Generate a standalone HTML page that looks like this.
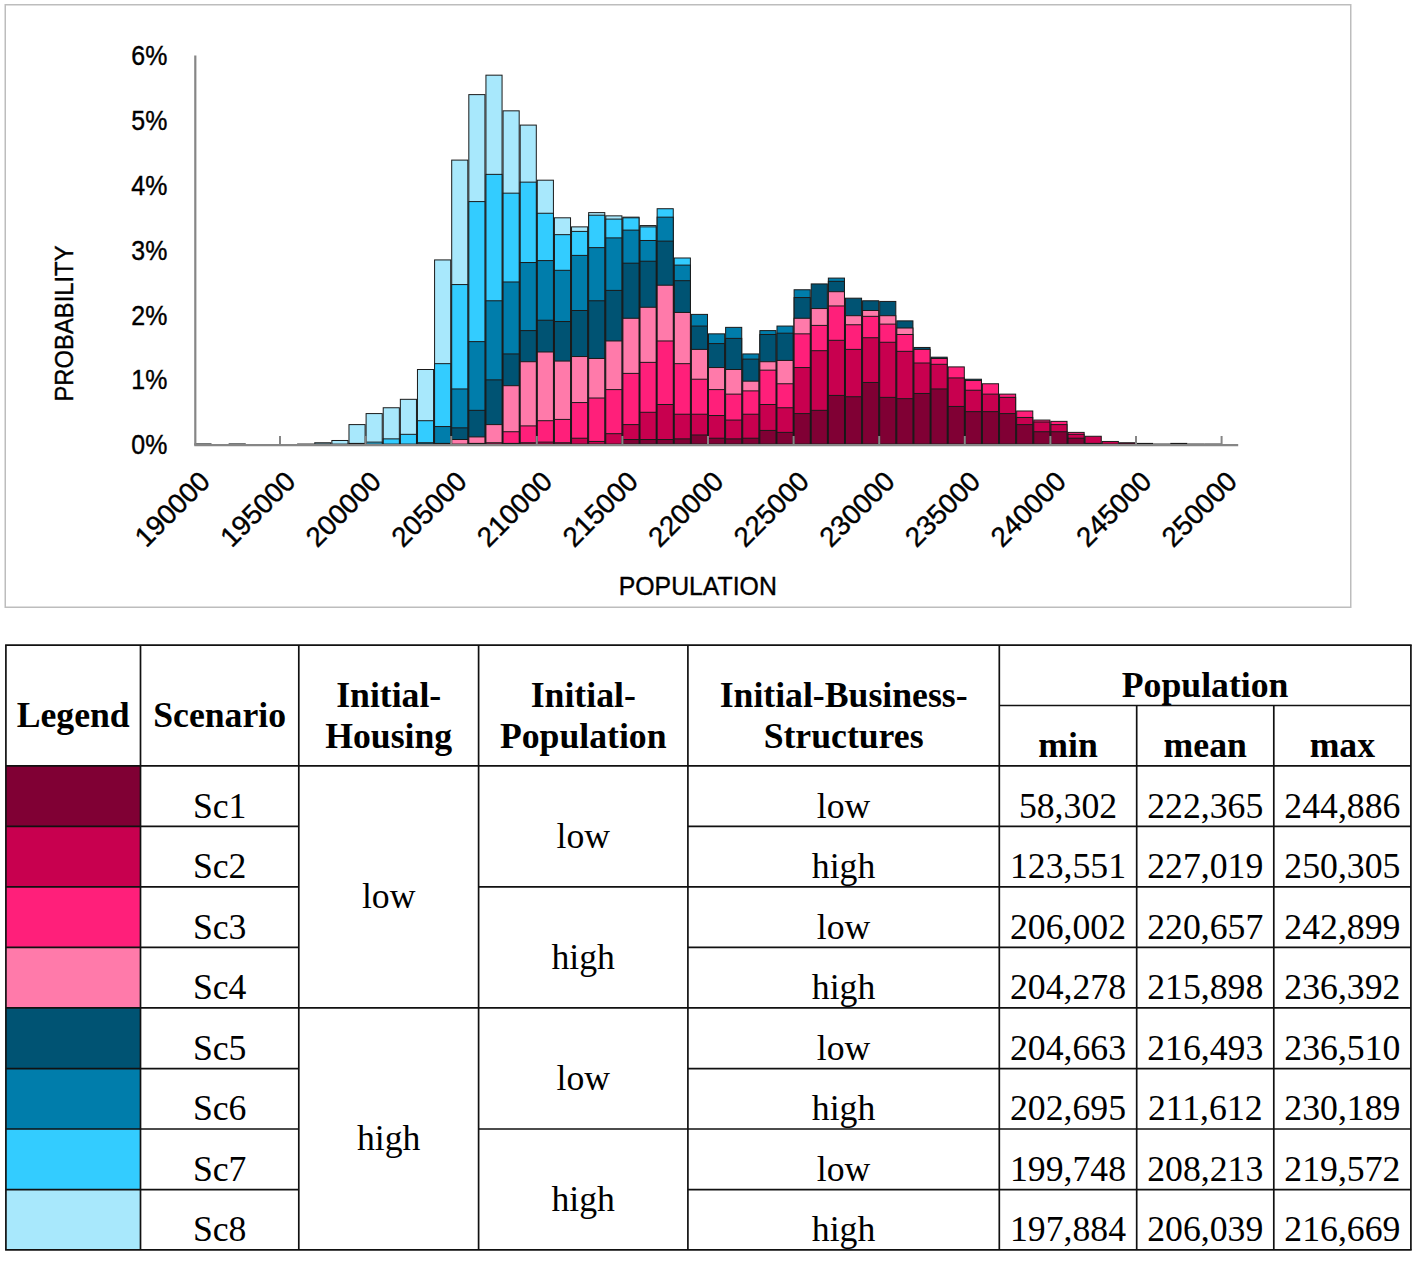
<!DOCTYPE html><html><head><meta charset="utf-8"><style>
html,body{margin:0;padding:0;background:#fff;}body{width:1417px;height:1261px;overflow:hidden;position:relative;}
svg{position:absolute;left:0;top:0;}
.s{font-family:"Liberation Sans",sans-serif;fill:#000;stroke:#000;stroke-width:0.4px;}
.t{font-family:"Liberation Serif",serif;fill:#000;font-size:35.7px;}
.b{font-weight:bold;}
</style></head><body>
<svg width="1417" height="1261" viewBox="0 0 1417 1261">
<rect x="5.25" y="4.75" width="1345.5" height="602.5" fill="none" stroke="#bdbdbd" stroke-width="1.5"/>
<g stroke="#1a1a1a" stroke-width="1">
<rect x="194.9" y="443.92" width="16.12" height="0.3" fill="#a8e8fc"/>
<rect x="229.14" y="443.92" width="16.12" height="0.3" fill="#a8e8fc"/>
<rect x="297.62" y="444.05" width="16.12" height="0.3" fill="#a8e8fc"/>
<rect x="314.74" y="442.76" width="16.12" height="1.34" fill="#a8e8fc"/>
<rect x="331.86" y="440.49" width="16.12" height="3.61" fill="#a8e8fc"/>
<rect x="348.98" y="424.6" width="16.12" height="19.5" fill="#a8e8fc"/>
<rect x="348.98" y="443.4" width="16.12" height="0.7" fill="#33ccff"/>
<rect x="366.1" y="413.58" width="16.12" height="30.52" fill="#a8e8fc"/>
<rect x="366.1" y="442.11" width="16.12" height="1.99" fill="#33ccff"/>
<rect x="383.22" y="407.75" width="16.12" height="36.35" fill="#a8e8fc"/>
<rect x="383.22" y="438.87" width="16.12" height="5.23" fill="#33ccff"/>
<rect x="400.34" y="399.32" width="16.12" height="44.78" fill="#a8e8fc"/>
<rect x="400.34" y="434.33" width="16.12" height="9.77" fill="#33ccff"/>
<rect x="417.46" y="369.5" width="16.12" height="74.6" fill="#a8e8fc"/>
<rect x="417.46" y="420.71" width="16.12" height="23.39" fill="#33ccff"/>
<rect x="417.46" y="442.76" width="16.12" height="1.34" fill="#007dab"/>
<rect x="434.58" y="259.93" width="16.12" height="184.17" fill="#a8e8fc"/>
<rect x="434.58" y="363.66" width="16.12" height="80.44" fill="#33ccff"/>
<rect x="434.58" y="426.55" width="16.12" height="17.55" fill="#007dab"/>
<rect x="434.58" y="443.4" width="16.12" height="0.7" fill="#005373"/>
<rect x="451.7" y="160.1" width="16.12" height="284" fill="#a8e8fc"/>
<rect x="451.7" y="284.57" width="16.12" height="159.53" fill="#33ccff"/>
<rect x="451.7" y="388.95" width="16.12" height="55.15" fill="#007dab"/>
<rect x="451.7" y="427.84" width="16.12" height="16.26" fill="#005373"/>
<rect x="451.7" y="439.51" width="16.12" height="4.59" fill="#ff7aaa"/>
<rect x="468.82" y="94.62" width="16.12" height="349.48" fill="#a8e8fc"/>
<rect x="468.82" y="201.59" width="16.12" height="242.51" fill="#33ccff"/>
<rect x="468.82" y="341.62" width="16.12" height="102.48" fill="#007dab"/>
<rect x="468.82" y="410.34" width="16.12" height="33.76" fill="#005373"/>
<rect x="468.82" y="436.92" width="16.12" height="7.18" fill="#ff7aaa"/>
<rect x="468.82" y="443.4" width="16.12" height="0.7" fill="#ff1f7a"/>
<rect x="485.94" y="75.17" width="16.12" height="368.93" fill="#a8e8fc"/>
<rect x="485.94" y="174.36" width="16.12" height="269.74" fill="#33ccff"/>
<rect x="485.94" y="300.78" width="16.12" height="143.32" fill="#007dab"/>
<rect x="485.94" y="379.87" width="16.12" height="64.23" fill="#005373"/>
<rect x="485.94" y="424.6" width="16.12" height="19.5" fill="#ff7aaa"/>
<rect x="485.94" y="442.76" width="16.12" height="1.34" fill="#ff1f7a"/>
<rect x="503.06" y="110.83" width="16.12" height="333.27" fill="#a8e8fc"/>
<rect x="503.06" y="193.16" width="16.12" height="250.94" fill="#33ccff"/>
<rect x="503.06" y="281.98" width="16.12" height="162.12" fill="#007dab"/>
<rect x="503.06" y="353.94" width="16.12" height="90.16" fill="#005373"/>
<rect x="503.06" y="385.7" width="16.12" height="58.4" fill="#ff7aaa"/>
<rect x="503.06" y="431.73" width="16.12" height="12.37" fill="#ff1f7a"/>
<rect x="503.06" y="443.4" width="16.12" height="0.7" fill="#c8004f"/>
<rect x="520.18" y="125.09" width="16.12" height="319.01" fill="#a8e8fc"/>
<rect x="520.18" y="182.14" width="16.12" height="261.96" fill="#33ccff"/>
<rect x="520.18" y="262.53" width="16.12" height="181.57" fill="#007dab"/>
<rect x="520.18" y="330.6" width="16.12" height="113.5" fill="#005373"/>
<rect x="520.18" y="361.72" width="16.12" height="82.38" fill="#ff7aaa"/>
<rect x="520.18" y="425.9" width="16.12" height="18.2" fill="#ff1f7a"/>
<rect x="520.18" y="442.76" width="16.12" height="1.34" fill="#c8004f"/>
<rect x="537.3" y="180.19" width="16.12" height="263.91" fill="#a8e8fc"/>
<rect x="537.3" y="213.26" width="16.12" height="230.84" fill="#33ccff"/>
<rect x="537.3" y="260.58" width="16.12" height="183.52" fill="#007dab"/>
<rect x="537.3" y="320.23" width="16.12" height="123.87" fill="#005373"/>
<rect x="537.3" y="351.99" width="16.12" height="92.11" fill="#ff7aaa"/>
<rect x="537.3" y="420.71" width="16.12" height="23.39" fill="#ff1f7a"/>
<rect x="537.3" y="442.11" width="16.12" height="1.99" fill="#c8004f"/>
<rect x="554.42" y="217.8" width="16.12" height="226.31" fill="#a8e8fc"/>
<rect x="554.42" y="234.65" width="16.12" height="209.45" fill="#33ccff"/>
<rect x="554.42" y="270.31" width="16.12" height="173.79" fill="#007dab"/>
<rect x="554.42" y="321.52" width="16.12" height="122.58" fill="#005373"/>
<rect x="554.42" y="361.07" width="16.12" height="83.03" fill="#ff7aaa"/>
<rect x="554.42" y="419.42" width="16.12" height="24.68" fill="#ff1f7a"/>
<rect x="554.42" y="442.76" width="16.12" height="1.34" fill="#c8004f"/>
<rect x="571.54" y="226.87" width="16.12" height="217.23" fill="#a8e8fc"/>
<rect x="571.54" y="231.41" width="16.12" height="212.69" fill="#33ccff"/>
<rect x="571.54" y="255.4" width="16.12" height="188.7" fill="#007dab"/>
<rect x="571.54" y="310.5" width="16.12" height="133.6" fill="#005373"/>
<rect x="571.54" y="356.53" width="16.12" height="87.57" fill="#ff7aaa"/>
<rect x="571.54" y="402.56" width="16.12" height="41.54" fill="#ff1f7a"/>
<rect x="571.54" y="438.22" width="16.12" height="5.88" fill="#c8004f"/>
<rect x="588.66" y="212.61" width="16.12" height="231.49" fill="#a8e8fc"/>
<rect x="588.66" y="215.2" width="16.12" height="228.9" fill="#33ccff"/>
<rect x="588.66" y="247.62" width="16.12" height="196.48" fill="#007dab"/>
<rect x="588.66" y="300.78" width="16.12" height="143.32" fill="#005373"/>
<rect x="588.66" y="358.48" width="16.12" height="85.62" fill="#ff7aaa"/>
<rect x="588.66" y="398.02" width="16.12" height="46.08" fill="#ff1f7a"/>
<rect x="588.66" y="441.46" width="16.12" height="2.64" fill="#c8004f"/>
<rect x="605.78" y="215.85" width="16.12" height="228.25" fill="#a8e8fc"/>
<rect x="605.78" y="219.09" width="16.12" height="225.01" fill="#33ccff"/>
<rect x="605.78" y="237.89" width="16.12" height="206.21" fill="#007dab"/>
<rect x="605.78" y="290.4" width="16.12" height="153.7" fill="#005373"/>
<rect x="605.78" y="340.97" width="16.12" height="103.13" fill="#ff7aaa"/>
<rect x="605.78" y="389.59" width="16.12" height="54.51" fill="#ff1f7a"/>
<rect x="605.78" y="433.68" width="16.12" height="10.42" fill="#c8004f"/>
<rect x="622.9" y="217.15" width="16.12" height="226.95" fill="#a8e8fc"/>
<rect x="622.9" y="217.8" width="16.12" height="226.31" fill="#33ccff"/>
<rect x="622.9" y="230.11" width="16.12" height="213.99" fill="#007dab"/>
<rect x="622.9" y="263.18" width="16.12" height="180.92" fill="#005373"/>
<rect x="622.9" y="318.28" width="16.12" height="125.82" fill="#ff7aaa"/>
<rect x="622.9" y="373.39" width="16.12" height="70.71" fill="#ff1f7a"/>
<rect x="622.9" y="424.6" width="16.12" height="19.5" fill="#c8004f"/>
<rect x="622.9" y="439.51" width="16.12" height="4.59" fill="#800034"/>
<rect x="640.02" y="225.57" width="16.12" height="218.53" fill="#a8e8fc"/>
<rect x="640.02" y="226.87" width="16.12" height="217.23" fill="#33ccff"/>
<rect x="640.02" y="240.49" width="16.12" height="203.61" fill="#007dab"/>
<rect x="640.02" y="261.23" width="16.12" height="182.87" fill="#005373"/>
<rect x="640.02" y="307.26" width="16.12" height="136.84" fill="#ff7aaa"/>
<rect x="640.02" y="362.37" width="16.12" height="81.73" fill="#ff1f7a"/>
<rect x="640.02" y="412.29" width="16.12" height="31.81" fill="#c8004f"/>
<rect x="640.02" y="439.51" width="16.12" height="4.59" fill="#800034"/>
<rect x="657.14" y="208.72" width="16.12" height="235.38" fill="#33ccff"/>
<rect x="657.14" y="217.15" width="16.12" height="226.95" fill="#007dab"/>
<rect x="657.14" y="241.13" width="16.12" height="202.97" fill="#005373"/>
<rect x="657.14" y="285.22" width="16.12" height="158.88" fill="#ff7aaa"/>
<rect x="657.14" y="340.97" width="16.12" height="103.13" fill="#ff1f7a"/>
<rect x="657.14" y="404.51" width="16.12" height="39.59" fill="#c8004f"/>
<rect x="657.14" y="439.51" width="16.12" height="4.59" fill="#800034"/>
<rect x="674.26" y="257.99" width="16.12" height="186.11" fill="#33ccff"/>
<rect x="674.26" y="265.12" width="16.12" height="178.98" fill="#007dab"/>
<rect x="674.26" y="280.68" width="16.12" height="163.42" fill="#005373"/>
<rect x="674.26" y="312.45" width="16.12" height="131.65" fill="#ff7aaa"/>
<rect x="674.26" y="363.66" width="16.12" height="80.44" fill="#ff1f7a"/>
<rect x="674.26" y="414.23" width="16.12" height="29.87" fill="#c8004f"/>
<rect x="674.26" y="438.87" width="16.12" height="5.23" fill="#800034"/>
<rect x="691.38" y="314.39" width="16.12" height="129.71" fill="#007dab"/>
<rect x="691.38" y="326.06" width="16.12" height="118.04" fill="#005373"/>
<rect x="691.38" y="349.4" width="16.12" height="94.7" fill="#ff7aaa"/>
<rect x="691.38" y="379.22" width="16.12" height="64.88" fill="#ff1f7a"/>
<rect x="691.38" y="414.23" width="16.12" height="29.87" fill="#c8004f"/>
<rect x="691.38" y="434.98" width="16.12" height="9.12" fill="#800034"/>
<rect x="708.5" y="333.84" width="16.12" height="110.26" fill="#007dab"/>
<rect x="708.5" y="343.57" width="16.12" height="100.53" fill="#005373"/>
<rect x="708.5" y="367.55" width="16.12" height="76.55" fill="#ff7aaa"/>
<rect x="708.5" y="389.59" width="16.12" height="54.51" fill="#ff1f7a"/>
<rect x="708.5" y="415.53" width="16.12" height="28.57" fill="#c8004f"/>
<rect x="708.5" y="438.22" width="16.12" height="5.88" fill="#800034"/>
<rect x="725.62" y="327.36" width="16.12" height="116.74" fill="#007dab"/>
<rect x="725.62" y="338.38" width="16.12" height="105.72" fill="#005373"/>
<rect x="725.62" y="369.5" width="16.12" height="74.6" fill="#ff7aaa"/>
<rect x="725.62" y="394.13" width="16.12" height="49.97" fill="#ff1f7a"/>
<rect x="725.62" y="420.06" width="16.12" height="24.04" fill="#c8004f"/>
<rect x="725.62" y="438.87" width="16.12" height="5.23" fill="#800034"/>
<rect x="742.74" y="353.94" width="16.12" height="90.16" fill="#007dab"/>
<rect x="742.74" y="359.12" width="16.12" height="84.98" fill="#005373"/>
<rect x="742.74" y="381.17" width="16.12" height="62.93" fill="#ff7aaa"/>
<rect x="742.74" y="390.89" width="16.12" height="53.21" fill="#ff1f7a"/>
<rect x="742.74" y="414.23" width="16.12" height="29.87" fill="#c8004f"/>
<rect x="742.74" y="438.22" width="16.12" height="5.88" fill="#800034"/>
<rect x="759.86" y="330.6" width="16.12" height="113.5" fill="#007dab"/>
<rect x="759.86" y="334.49" width="16.12" height="109.61" fill="#005373"/>
<rect x="759.86" y="361.72" width="16.12" height="82.38" fill="#ff7aaa"/>
<rect x="759.86" y="370.15" width="16.12" height="73.95" fill="#ff1f7a"/>
<rect x="759.86" y="404.51" width="16.12" height="39.59" fill="#c8004f"/>
<rect x="759.86" y="430.44" width="16.12" height="13.66" fill="#800034"/>
<rect x="776.98" y="326.06" width="16.12" height="118.04" fill="#007dab"/>
<rect x="776.98" y="333.19" width="16.12" height="110.91" fill="#005373"/>
<rect x="776.98" y="360.42" width="16.12" height="83.68" fill="#ff7aaa"/>
<rect x="776.98" y="383.76" width="16.12" height="60.34" fill="#ff1f7a"/>
<rect x="776.98" y="407.75" width="16.12" height="36.35" fill="#c8004f"/>
<rect x="776.98" y="432.38" width="16.12" height="11.72" fill="#800034"/>
<rect x="794.1" y="289.76" width="16.12" height="154.34" fill="#007dab"/>
<rect x="794.1" y="297.54" width="16.12" height="146.56" fill="#005373"/>
<rect x="794.1" y="318.28" width="16.12" height="125.82" fill="#ff7aaa"/>
<rect x="794.1" y="333.84" width="16.12" height="110.26" fill="#ff1f7a"/>
<rect x="794.1" y="367.55" width="16.12" height="76.55" fill="#c8004f"/>
<rect x="794.1" y="413.58" width="16.12" height="30.52" fill="#800034"/>
<rect x="811.22" y="283.92" width="16.12" height="160.18" fill="#005373"/>
<rect x="811.22" y="308.56" width="16.12" height="135.54" fill="#ff7aaa"/>
<rect x="811.22" y="325.41" width="16.12" height="118.69" fill="#ff1f7a"/>
<rect x="811.22" y="350.7" width="16.12" height="93.4" fill="#c8004f"/>
<rect x="811.22" y="410.34" width="16.12" height="33.76" fill="#800034"/>
<rect x="828.34" y="278.09" width="16.12" height="166.01" fill="#007dab"/>
<rect x="828.34" y="281.33" width="16.12" height="162.77" fill="#005373"/>
<rect x="828.34" y="291.7" width="16.12" height="152.4" fill="#ff7aaa"/>
<rect x="828.34" y="305.96" width="16.12" height="138.14" fill="#ff1f7a"/>
<rect x="828.34" y="340.32" width="16.12" height="103.78" fill="#c8004f"/>
<rect x="828.34" y="395.43" width="16.12" height="48.67" fill="#800034"/>
<rect x="845.46" y="298.18" width="16.12" height="145.92" fill="#005373"/>
<rect x="845.46" y="315.69" width="16.12" height="128.41" fill="#ff7aaa"/>
<rect x="845.46" y="324.76" width="16.12" height="119.34" fill="#ff1f7a"/>
<rect x="845.46" y="349.4" width="16.12" height="94.7" fill="#c8004f"/>
<rect x="845.46" y="396.73" width="16.12" height="47.37" fill="#800034"/>
<rect x="862.58" y="300.78" width="16.12" height="143.32" fill="#005373"/>
<rect x="862.58" y="310.5" width="16.12" height="133.6" fill="#ff7aaa"/>
<rect x="862.58" y="316.34" width="16.12" height="127.76" fill="#ff1f7a"/>
<rect x="862.58" y="337.73" width="16.12" height="106.37" fill="#c8004f"/>
<rect x="862.58" y="382.46" width="16.12" height="61.64" fill="#800034"/>
<rect x="879.7" y="301.43" width="16.12" height="142.67" fill="#005373"/>
<rect x="879.7" y="315.69" width="16.12" height="128.41" fill="#ff7aaa"/>
<rect x="879.7" y="324.12" width="16.12" height="119.98" fill="#ff1f7a"/>
<rect x="879.7" y="342.27" width="16.12" height="101.83" fill="#c8004f"/>
<rect x="879.7" y="397.37" width="16.12" height="46.73" fill="#800034"/>
<rect x="896.82" y="320.87" width="16.12" height="123.23" fill="#005373"/>
<rect x="896.82" y="328.01" width="16.12" height="116.09" fill="#ff7aaa"/>
<rect x="896.82" y="334.49" width="16.12" height="109.61" fill="#ff1f7a"/>
<rect x="896.82" y="351.34" width="16.12" height="92.76" fill="#c8004f"/>
<rect x="896.82" y="398.67" width="16.12" height="45.43" fill="#800034"/>
<rect x="913.94" y="347.46" width="16.12" height="96.65" fill="#005373"/>
<rect x="913.94" y="349.4" width="16.12" height="94.7" fill="#ff1f7a"/>
<rect x="913.94" y="363.01" width="16.12" height="81.09" fill="#c8004f"/>
<rect x="913.94" y="393.48" width="16.12" height="50.62" fill="#800034"/>
<rect x="931.06" y="357.18" width="16.12" height="86.92" fill="#005373"/>
<rect x="931.06" y="358.48" width="16.12" height="85.62" fill="#ff1f7a"/>
<rect x="931.06" y="364.31" width="16.12" height="79.79" fill="#c8004f"/>
<rect x="931.06" y="388.95" width="16.12" height="55.15" fill="#800034"/>
<rect x="948.18" y="366.9" width="16.12" height="77.2" fill="#ff1f7a"/>
<rect x="948.18" y="377.93" width="16.12" height="66.17" fill="#c8004f"/>
<rect x="948.18" y="406.45" width="16.12" height="37.65" fill="#800034"/>
<rect x="965.3" y="379.22" width="16.12" height="64.88" fill="#005373"/>
<rect x="965.3" y="380.52" width="16.12" height="63.58" fill="#ff1f7a"/>
<rect x="965.3" y="390.24" width="16.12" height="53.86" fill="#c8004f"/>
<rect x="965.3" y="411.64" width="16.12" height="32.46" fill="#800034"/>
<rect x="982.42" y="383.76" width="16.12" height="60.34" fill="#ff1f7a"/>
<rect x="982.42" y="394.13" width="16.12" height="49.97" fill="#c8004f"/>
<rect x="982.42" y="411.64" width="16.12" height="32.46" fill="#800034"/>
<rect x="999.54" y="394.13" width="16.12" height="49.97" fill="#ff1f7a"/>
<rect x="999.54" y="397.37" width="16.12" height="46.73" fill="#c8004f"/>
<rect x="999.54" y="413.58" width="16.12" height="30.52" fill="#800034"/>
<rect x="1016.66" y="410.99" width="16.12" height="33.11" fill="#ff1f7a"/>
<rect x="1016.66" y="417.47" width="16.12" height="26.63" fill="#c8004f"/>
<rect x="1016.66" y="424.6" width="16.12" height="19.5" fill="#800034"/>
<rect x="1033.78" y="420.06" width="16.12" height="24.04" fill="#ff1f7a"/>
<rect x="1033.78" y="422.01" width="16.12" height="22.09" fill="#c8004f"/>
<rect x="1033.78" y="431.73" width="16.12" height="12.37" fill="#800034"/>
<rect x="1050.9" y="421.36" width="16.12" height="22.74" fill="#ff1f7a"/>
<rect x="1050.9" y="424.6" width="16.12" height="19.5" fill="#c8004f"/>
<rect x="1050.9" y="431.73" width="16.12" height="12.37" fill="#800034"/>
<rect x="1068.02" y="432.38" width="16.12" height="11.72" fill="#ff1f7a"/>
<rect x="1068.02" y="434.33" width="16.12" height="9.77" fill="#c8004f"/>
<rect x="1068.02" y="438.22" width="16.12" height="5.88" fill="#800034"/>
<rect x="1085.14" y="436.27" width="16.12" height="7.83" fill="#c8004f"/>
<rect x="1085.14" y="443.4" width="16.12" height="0.7" fill="#800034"/>
<rect x="1102.26" y="441.46" width="16.12" height="2.64" fill="#c8004f"/>
<rect x="1119.38" y="442.76" width="16.12" height="1.34" fill="#800034"/>
<rect x="1136.5" y="443.4" width="16.12" height="0.7" fill="#800034"/>
<rect x="1153.62" y="444.05" width="16.12" height="0.3" fill="#800034"/>
<rect x="1170.74" y="443.4" width="16.12" height="0.7" fill="#800034"/>
<rect x="1187.86" y="444.05" width="16.12" height="0.3" fill="#800034"/>
<rect x="1204.98" y="444.05" width="16.12" height="0.3" fill="#800034"/>
</g>
<line x1="195.3" y1="55.6" x2="195.3" y2="445.6" stroke="#868686" stroke-width="2.2"/>
<line x1="194.3" y1="445.2" x2="1238.2" y2="445.2" stroke="#868686" stroke-width="2.2"/>
<line x1="280" y1="436" x2="280" y2="444" stroke="#868686" stroke-width="2"/>
<line x1="365.6" y1="436" x2="365.6" y2="444" stroke="#868686" stroke-width="2"/>
<line x1="451.2" y1="436" x2="451.2" y2="444" stroke="#868686" stroke-width="2"/>
<line x1="536.8" y1="436" x2="536.8" y2="444" stroke="#868686" stroke-width="2"/>
<line x1="622.4" y1="436" x2="622.4" y2="444" stroke="#868686" stroke-width="2"/>
<line x1="708" y1="436" x2="708" y2="444" stroke="#868686" stroke-width="2"/>
<line x1="793.6" y1="436" x2="793.6" y2="444" stroke="#868686" stroke-width="2"/>
<line x1="879.2" y1="436" x2="879.2" y2="444" stroke="#868686" stroke-width="2"/>
<line x1="964.8" y1="436" x2="964.8" y2="444" stroke="#868686" stroke-width="2"/>
<line x1="1050.4" y1="436" x2="1050.4" y2="444" stroke="#868686" stroke-width="2"/>
<line x1="1136" y1="436" x2="1136" y2="444" stroke="#868686" stroke-width="2"/>
<line x1="1221.6" y1="436" x2="1221.6" y2="444" stroke="#868686" stroke-width="2"/>
<text class="s" x="167.3" y="454.3" font-size="26.8" text-anchor="end" textLength="36" lengthAdjust="spacingAndGlyphs">0%</text>
<text class="s" x="167.3" y="389.47" font-size="26.8" text-anchor="end" textLength="36" lengthAdjust="spacingAndGlyphs">1%</text>
<text class="s" x="167.3" y="324.64" font-size="26.8" text-anchor="end" textLength="36" lengthAdjust="spacingAndGlyphs">2%</text>
<text class="s" x="167.3" y="259.81" font-size="26.8" text-anchor="end" textLength="36" lengthAdjust="spacingAndGlyphs">3%</text>
<text class="s" x="167.3" y="194.98" font-size="26.8" text-anchor="end" textLength="36" lengthAdjust="spacingAndGlyphs">4%</text>
<text class="s" x="167.3" y="130.15" font-size="26.8" text-anchor="end" textLength="36" lengthAdjust="spacingAndGlyphs">5%</text>
<text class="s" x="167.3" y="65.32" font-size="26.8" text-anchor="end" textLength="36" lengthAdjust="spacingAndGlyphs">6%</text>
<text class="s" font-size="27.7" text-anchor="end" transform="translate(211.56,483) rotate(-45)" textLength="92.5" lengthAdjust="spacingAndGlyphs">190000</text>
<text class="s" font-size="27.7" text-anchor="end" transform="translate(297.16,483) rotate(-45)" textLength="92.5" lengthAdjust="spacingAndGlyphs">195000</text>
<text class="s" font-size="27.7" text-anchor="end" transform="translate(382.76,483) rotate(-45)" textLength="92.5" lengthAdjust="spacingAndGlyphs">200000</text>
<text class="s" font-size="27.7" text-anchor="end" transform="translate(468.36,483) rotate(-45)" textLength="92.5" lengthAdjust="spacingAndGlyphs">205000</text>
<text class="s" font-size="27.7" text-anchor="end" transform="translate(553.96,483) rotate(-45)" textLength="92.5" lengthAdjust="spacingAndGlyphs">210000</text>
<text class="s" font-size="27.7" text-anchor="end" transform="translate(639.56,483) rotate(-45)" textLength="92.5" lengthAdjust="spacingAndGlyphs">215000</text>
<text class="s" font-size="27.7" text-anchor="end" transform="translate(725.16,483) rotate(-45)" textLength="92.5" lengthAdjust="spacingAndGlyphs">220000</text>
<text class="s" font-size="27.7" text-anchor="end" transform="translate(810.76,483) rotate(-45)" textLength="92.5" lengthAdjust="spacingAndGlyphs">225000</text>
<text class="s" font-size="27.7" text-anchor="end" transform="translate(896.36,483) rotate(-45)" textLength="92.5" lengthAdjust="spacingAndGlyphs">230000</text>
<text class="s" font-size="27.7" text-anchor="end" transform="translate(981.96,483) rotate(-45)" textLength="92.5" lengthAdjust="spacingAndGlyphs">235000</text>
<text class="s" font-size="27.7" text-anchor="end" transform="translate(1067.56,483) rotate(-45)" textLength="92.5" lengthAdjust="spacingAndGlyphs">240000</text>
<text class="s" font-size="27.7" text-anchor="end" transform="translate(1153.16,483) rotate(-45)" textLength="92.5" lengthAdjust="spacingAndGlyphs">245000</text>
<text class="s" font-size="27.7" text-anchor="end" transform="translate(1238.76,483) rotate(-45)" textLength="92.5" lengthAdjust="spacingAndGlyphs">250000</text>
<text class="s" font-size="26" text-anchor="middle" x="697.8" y="595.3" textLength="158" lengthAdjust="spacingAndGlyphs">POPULATION</text>
<text class="s" font-size="26" text-anchor="middle" transform="translate(73.1,323.5) rotate(-90)" textLength="156" lengthAdjust="spacingAndGlyphs">PROBABILITY</text>
<rect x="5.9" y="765.9" width="134.6" height="60.5" fill="#800034"/>
<rect x="5.9" y="826.4" width="134.6" height="60.5" fill="#c8004f"/>
<rect x="5.9" y="886.9" width="134.6" height="60.4" fill="#ff1f7a"/>
<rect x="5.9" y="947.3" width="134.6" height="60.6" fill="#ff7aaa"/>
<rect x="5.9" y="1007.9" width="134.6" height="60.8" fill="#005373"/>
<rect x="5.9" y="1068.7" width="134.6" height="60.3" fill="#007dab"/>
<rect x="5.9" y="1129" width="134.6" height="60.7" fill="#33ccff"/>
<rect x="5.9" y="1189.7" width="134.6" height="60.1" fill="#a8e8fc"/>
<line x1="5.1" y1="645.2" x2="1411.7" y2="645.2" stroke="#111" stroke-width="1.7"/>
<line x1="999.3" y1="705.5" x2="1410.9" y2="705.5" stroke="#111" stroke-width="1.7"/>
<line x1="5.9" y1="765.9" x2="1410.9" y2="765.9" stroke="#111" stroke-width="1.7"/>
<line x1="5.1" y1="1249.8" x2="1411.7" y2="1249.8" stroke="#111" stroke-width="1.7"/>
<line x1="5.9" y1="826.4" x2="298.8" y2="826.4" stroke="#111" stroke-width="1.7"/>
<line x1="687.9" y1="826.4" x2="1410.9" y2="826.4" stroke="#111" stroke-width="1.7"/>
<line x1="5.9" y1="886.9" x2="298.8" y2="886.9" stroke="#111" stroke-width="1.7"/>
<line x1="478.6" y1="886.9" x2="687.9" y2="886.9" stroke="#111" stroke-width="1.7"/>
<line x1="687.9" y1="886.9" x2="1410.9" y2="886.9" stroke="#111" stroke-width="1.7"/>
<line x1="5.9" y1="947.3" x2="298.8" y2="947.3" stroke="#111" stroke-width="1.7"/>
<line x1="687.9" y1="947.3" x2="1410.9" y2="947.3" stroke="#111" stroke-width="1.7"/>
<line x1="5.9" y1="1007.9" x2="298.8" y2="1007.9" stroke="#111" stroke-width="1.7"/>
<line x1="298.8" y1="1007.9" x2="687.9" y2="1007.9" stroke="#111" stroke-width="1.7"/>
<line x1="687.9" y1="1007.9" x2="1410.9" y2="1007.9" stroke="#111" stroke-width="1.7"/>
<line x1="5.9" y1="1068.7" x2="298.8" y2="1068.7" stroke="#111" stroke-width="1.7"/>
<line x1="687.9" y1="1068.7" x2="1410.9" y2="1068.7" stroke="#111" stroke-width="1.7"/>
<line x1="5.9" y1="1129" x2="298.8" y2="1129" stroke="#111" stroke-width="1.7"/>
<line x1="478.6" y1="1129" x2="687.9" y2="1129" stroke="#111" stroke-width="1.7"/>
<line x1="687.9" y1="1129" x2="1410.9" y2="1129" stroke="#111" stroke-width="1.7"/>
<line x1="5.9" y1="1189.7" x2="298.8" y2="1189.7" stroke="#111" stroke-width="1.7"/>
<line x1="687.9" y1="1189.7" x2="1410.9" y2="1189.7" stroke="#111" stroke-width="1.7"/>
<line x1="5.9" y1="645.2" x2="5.9" y2="1249.8" stroke="#111" stroke-width="1.7"/>
<line x1="140.5" y1="645.2" x2="140.5" y2="1249.8" stroke="#111" stroke-width="1.7"/>
<line x1="298.8" y1="645.2" x2="298.8" y2="1249.8" stroke="#111" stroke-width="1.7"/>
<line x1="478.6" y1="645.2" x2="478.6" y2="1249.8" stroke="#111" stroke-width="1.7"/>
<line x1="687.9" y1="645.2" x2="687.9" y2="1249.8" stroke="#111" stroke-width="1.7"/>
<line x1="999.3" y1="645.2" x2="999.3" y2="1249.8" stroke="#111" stroke-width="1.7"/>
<line x1="1136.7" y1="705.5" x2="1136.7" y2="1249.8" stroke="#111" stroke-width="1.7"/>
<line x1="1273.8" y1="705.5" x2="1273.8" y2="1249.8" stroke="#111" stroke-width="1.7"/>
<line x1="1410.9" y1="645.2" x2="1410.9" y2="1249.8" stroke="#111" stroke-width="1.7"/>
<text class="t b" x="73.2" y="727" text-anchor="middle">Legend</text>
<text class="t b" x="219.65" y="727" text-anchor="middle">Scenario</text>
<text class="t b" x="388.7" y="707" text-anchor="middle">Initial-</text>
<text class="t b" x="388.7" y="747.5" text-anchor="middle">Housing</text>
<text class="t b" x="583.25" y="707" text-anchor="middle">Initial-</text>
<text class="t b" x="583.25" y="747.5" text-anchor="middle">Population</text>
<text class="t b" x="843.6" y="707" text-anchor="middle">Initial-Business-</text>
<text class="t b" x="843.6" y="747.5" text-anchor="middle">Structures</text>
<text class="t b" x="1205.1" y="697" text-anchor="middle">Population</text>
<text class="t b" x="1068" y="757" text-anchor="middle">min</text>
<text class="t b" x="1205.25" y="757" text-anchor="middle">mean</text>
<text class="t b" x="1342.35" y="757" text-anchor="middle">max</text>
<text class="t" x="219.65" y="817.5" text-anchor="middle">Sc1</text>
<text class="t" x="843.6" y="817.5" text-anchor="middle">low</text>
<text class="t" x="1068" y="817.5" text-anchor="middle">58,302</text>
<text class="t" x="1205.25" y="817.5" text-anchor="middle">222,365</text>
<text class="t" x="1342.35" y="817.5" text-anchor="middle">244,886</text>
<text class="t" x="219.65" y="878" text-anchor="middle">Sc2</text>
<text class="t" x="843.6" y="878" text-anchor="middle">high</text>
<text class="t" x="1068" y="878" text-anchor="middle">123,551</text>
<text class="t" x="1205.25" y="878" text-anchor="middle">227,019</text>
<text class="t" x="1342.35" y="878" text-anchor="middle">250,305</text>
<text class="t" x="219.65" y="938.5" text-anchor="middle">Sc3</text>
<text class="t" x="843.6" y="938.5" text-anchor="middle">low</text>
<text class="t" x="1068" y="938.5" text-anchor="middle">206,002</text>
<text class="t" x="1205.25" y="938.5" text-anchor="middle">220,657</text>
<text class="t" x="1342.35" y="938.5" text-anchor="middle">242,899</text>
<text class="t" x="219.65" y="998.9" text-anchor="middle">Sc4</text>
<text class="t" x="843.6" y="998.9" text-anchor="middle">high</text>
<text class="t" x="1068" y="998.9" text-anchor="middle">204,278</text>
<text class="t" x="1205.25" y="998.9" text-anchor="middle">215,898</text>
<text class="t" x="1342.35" y="998.9" text-anchor="middle">236,392</text>
<text class="t" x="219.65" y="1059.5" text-anchor="middle">Sc5</text>
<text class="t" x="843.6" y="1059.5" text-anchor="middle">low</text>
<text class="t" x="1068" y="1059.5" text-anchor="middle">204,663</text>
<text class="t" x="1205.25" y="1059.5" text-anchor="middle">216,493</text>
<text class="t" x="1342.35" y="1059.5" text-anchor="middle">236,510</text>
<text class="t" x="219.65" y="1120.3" text-anchor="middle">Sc6</text>
<text class="t" x="843.6" y="1120.3" text-anchor="middle">high</text>
<text class="t" x="1068" y="1120.3" text-anchor="middle">202,695</text>
<text class="t" x="1205.25" y="1120.3" text-anchor="middle">211,612</text>
<text class="t" x="1342.35" y="1120.3" text-anchor="middle">230,189</text>
<text class="t" x="219.65" y="1180.6" text-anchor="middle">Sc7</text>
<text class="t" x="843.6" y="1180.6" text-anchor="middle">low</text>
<text class="t" x="1068" y="1180.6" text-anchor="middle">199,748</text>
<text class="t" x="1205.25" y="1180.6" text-anchor="middle">208,213</text>
<text class="t" x="1342.35" y="1180.6" text-anchor="middle">219,572</text>
<text class="t" x="219.65" y="1241.3" text-anchor="middle">Sc8</text>
<text class="t" x="843.6" y="1241.3" text-anchor="middle">high</text>
<text class="t" x="1068" y="1241.3" text-anchor="middle">197,884</text>
<text class="t" x="1205.25" y="1241.3" text-anchor="middle">206,039</text>
<text class="t" x="1342.35" y="1241.3" text-anchor="middle">216,669</text>
<text class="t" x="388.7" y="908.4" text-anchor="middle">low</text>
<text class="t" x="388.7" y="1150.35" text-anchor="middle">high</text>
<text class="t" x="583.25" y="847.9" text-anchor="middle">low</text>
<text class="t" x="583.25" y="968.9" text-anchor="middle">high</text>
<text class="t" x="583.25" y="1089.95" text-anchor="middle">low</text>
<text class="t" x="583.25" y="1210.9" text-anchor="middle">high</text>
</svg></body></html>
